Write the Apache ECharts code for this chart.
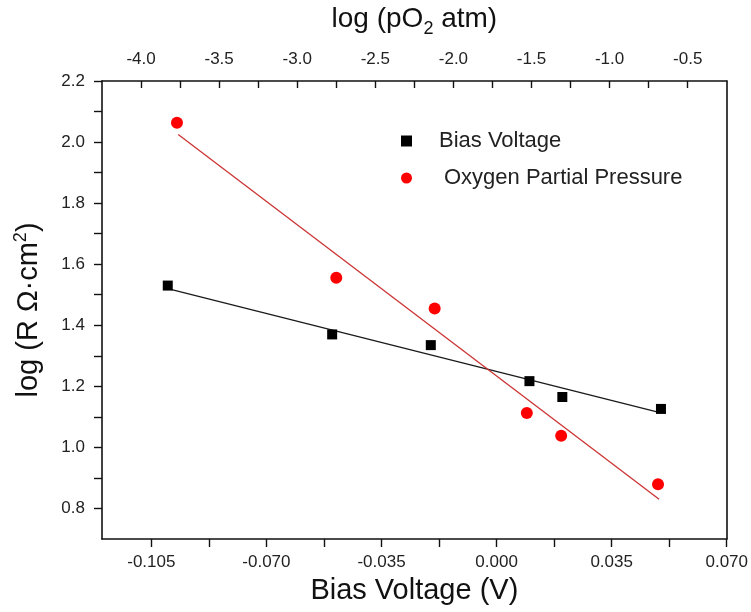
<!DOCTYPE html>
<html>
<head>
<meta charset="utf-8">
<script src="https://cdn.jsdelivr.net/npm/echarts@6/dist/echarts.min.js"></script>
<style>
  html, body { margin: 0; padding: 0; background: #fff; }
  #main { width: 751px; height: 612px; }
</style>
</head>
<body>
<div id="main"></div>
<script>
// bias voltage (V) -> log R, bottom axis
const biasX = [-0.1, -0.05, -0.02, 0.01, 0.02, 0.05];
const biasY = [1.53, 1.37, 1.335, 1.217, 1.165, 1.126];
// log pO2 -> log R, top axis
const pO2X = [-3.77, -2.75, -2.12, -1.53, -1.31, -0.69];
const pO2Y = [2.063, 1.556, 1.455, 1.113, 1.038, 0.879];
// fitted lines, end points
const biasFitX = [-0.1, 0.05];
const biasFitY = [1.52, 1.113];
const pO2FitX = [-3.762, -0.683];
const pO2FitY = [2.025, 0.83];

const bottomLabels = [-0.105, -0.07, -0.035, 0, 0.035, 0.07];
const bottomTicks = [-0.105, -0.0875, -0.07, -0.0525, -0.035, -0.0175, 0, 0.0175, 0.035, 0.0525, 0.07];
const topLabels = [-4.0, -3.5, -3.0, -2.5, -2.0, -1.5, -1.0, -0.5];
const topTicks = [-4.0, -3.75, -3.5, -3.25, -3.0, -2.75, -2.5, -2.25, -2.0, -1.75, -1.5, -1.25, -1.0, -0.75, -0.5];
const yLabels = [0.8, 1.0, 1.2, 1.4, 1.6, 1.8, 2.0, 2.2];
const yTicks = [0.8, 0.9, 1.0, 1.1, 1.2, 1.3, 1.4, 1.5, 1.6, 1.7, 1.8, 1.9, 2.0, 2.1, 2.2];

const font = "'Liberation Sans', Arial, sans-serif";
const ink = "#111";
const zip = (xs, ys) => xs.map((x, i) => [x, ys[i]]);

const axisLine = { show: true, onZero: false, lineStyle: { color: ink, width: 1.6 } };
const labelStyle = { color: "#222", fontSize: 17, fontFamily: font };
const titleStyle = { color: ink, fontSize: 29, fontFamily: font };

const myChart = echarts.init(document.getElementById("main"), null, { renderer: "canvas" });
myChart.setOption({
  animation: false,
  backgroundColor: "#fff",
  grid: { left: 102, right: 24, top: 78, bottom: 73, containLabel: false },
  legend: {
    orient: "vertical",
    left: 396,
    top: 125,
    itemWidth: 11,
    itemHeight: 11,
    itemGap: 15,
    textStyle: { color: "#222", fontSize: 22, fontFamily: font, padding: [0, 0, 0, 22] },
    data: [
      { name: "Bias Voltage", icon: "rect" },
      { name: "Oxygen Partial Pressure", icon: "circle", textStyle: { padding: [0, 0, 0, 27] } },
    ],
  },
  xAxis: [
    {
      type: "value",
      position: "bottom",
      min: -0.12,
      max: 0.07,
      name: "Bias Voltage (V)",
      nameLocation: "middle",
      nameGap: 37,
      nameTextStyle: titleStyle,
      axisLine: axisLine,
      axisTick: { show: true, inside: false, length: 8, customValues: bottomTicks, lineStyle: { color: ink, width: 1.4 } },
      axisLabel: {
        ...labelStyle,
        margin: 15,
        customValues: bottomLabels,
        formatter: (v) => v.toFixed(3),
      },
      splitLine: { show: false },
    },
    {
      type: "value",
      position: "top",
      min: -4.25,
      max: -0.25,
      name: "{t|log (pO}{s|2}{t| atm)}",
      nameLocation: "middle",
      nameGap: 43,
      nameTextStyle: {
        rich: {
          t: { color: ink, fontSize: 28, fontFamily: font },
          s: { color: ink, fontSize: 18, fontFamily: font, padding: [20, 0, 0, 0] },
        },
      },
      axisLine: axisLine,
      axisTick: { show: true, inside: true, length: 7, customValues: topTicks, lineStyle: { color: ink, width: 1.4 } },
      axisLabel: {
        ...labelStyle,
        margin: 13,
        customValues: topLabels,
        formatter: (v) => v.toFixed(1),
      },
      splitLine: { show: false },
    },
  ],
  yAxis: [
    {
      type: "value",
      position: "left",
      min: 0.7,
      max: 2.2,
      name: "{t|log (R Ω·cm}{p|2}{t|)}",
      nameLocation: "middle",
      nameGap: 56,
      nameTextStyle: {
        rich: {
          t: { ...titleStyle },
          p: { color: ink, fontSize: 18, fontFamily: font, padding: [0, 0, 16, 0] },
        },
      },
      axisLine: axisLine,
      axisTick: { show: true, inside: false, length: 8, customValues: yTicks, lineStyle: { color: ink, width: 1.4 } },
      axisLabel: {
        ...labelStyle,
        margin: 17,
        customValues: yLabels,
        formatter: (v) => v.toFixed(1),
      },
      splitLine: { show: false },
    },
    {
      type: "value",
      position: "right",
      min: 0.7,
      max: 2.2,
      axisLine: axisLine,
      axisTick: { show: false },
      axisLabel: { show: false },
      splitLine: { show: false },
    },
  ],
  series: [
    {
      name: "Bias Voltage fit",
      type: "line",
      xAxisIndex: 0,
      yAxisIndex: 0,
      data: zip(biasFitX, biasFitY),
      showSymbol: false,
      silent: true,
      lineStyle: { color: "#1a1a1a", width: 1.3 },
      z: 1,
    },
    {
      name: "Oxygen Partial Pressure fit",
      type: "line",
      xAxisIndex: 1,
      yAxisIndex: 0,
      data: zip(pO2FitX, pO2FitY),
      showSymbol: false,
      silent: true,
      lineStyle: { color: "#cc3333", width: 1.3 },
      z: 1,
    },
    {
      name: "Bias Voltage",
      type: "scatter",
      xAxisIndex: 0,
      yAxisIndex: 0,
      symbol: "rect",
      symbolSize: 10,
      itemStyle: { color: "#000", opacity: 1 },
      data: zip(biasX, biasY),
      z: 3,
    },
    {
      name: "Oxygen Partial Pressure",
      type: "scatter",
      xAxisIndex: 1,
      yAxisIndex: 0,
      symbol: "circle",
      symbolSize: 12,
      itemStyle: { color: "#ff0000", opacity: 1 },
      data: zip(pO2X, pO2Y),
      z: 3,
    },
  ],
});
</script>
</body>
</html>
